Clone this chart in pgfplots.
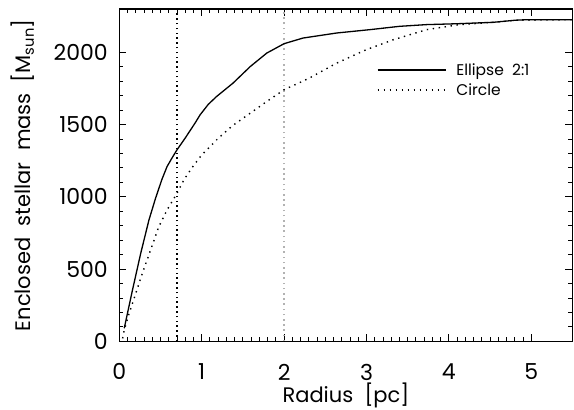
\documentclass[border=0pt]{standalone}
\usepackage{pgfplots}
\pgfplotsset{compat=1.18}
\usepackage{fontspec}
\setmainfont{Poppins}

% Enclosed stellar mass profiles
\pgfplotstableread{
r M
0.06 90
0.16 355
0.26 609
0.36 840
0.44 990
0.515 1117
0.58 1210
0.64 1269
0.70 1325
0.80 1407
0.92 1511
0.98 1567
1.08 1640
1.18 1694
1.38 1787
1.59 1902
1.79 1995
2.00 2060
2.23 2099
2.64 2134
3.04 2157
3.40 2180
3.73 2192
4.10 2198
4.54 2208
4.80 2222
4.94 2226
5.50 2226
}\ellipsedata

\pgfplotstableread{
r M
0.04 20
0.06 78
0.12 194
0.20 332
0.28 471
0.38 632
0.48 794
0.58 909
0.70 1025
0.785 1118
0.88 1200
1.00 1290
1.20 1405
1.38 1495
1.59 1579
1.79 1660
2.01 1745
2.15 1780
2.31 1823
2.64 1926
3.00 2019
3.33 2088
3.73 2157
4.13 2192
4.54 2208
4.82 2222
5.50 2226
}\circledata

\begin{document}
\begin{tikzpicture}
\useasboundingbox (-119.3pt,-68.7pt) rectangle (454.7pt,341.3pt);
\begin{axis}[
  scale only axis,
  width=453.2pt, height=332.3pt,
  xmin=0, xmax=5.5, ymin=0, ymax=2300,
  xtick={0,1,2,3,4,5}, minor x tick num=9,
  ytick={0,500,1000,1500,2000}, minor y tick num=4,
  major tick length=7pt, minor tick length=4pt,
  tick style={black, line width=0.9pt},
  axis line style={line width=1.1pt},
  /pgf/number format/assume math mode=true,
  /pgf/number format/set thousands separator={},
  tick label style={font=\fontsize{22}{24}\selectfont},
  xticklabel style={yshift=-19pt},
  yticklabel style={xshift=-8pt},
  label style={font=\fontsize{21}{23}\selectfont},
  xlabel={Radius\ \ [pc]},
  ylabel={Enclosed\ \ stellar\ \ mass\ \ [M\textsubscript{sun}]},
  xlabel style={at={(axis description cs:0.5,-0.162)}, anchor=center},
  ylabel style={at={(axis description cs:-0.2125,0.5)}, anchor=center, rotate=0},
  legend style={at={(axis cs:3.124,1940)}, anchor=north west, draw=none, fill=none,
    font=\fontsize{15.5}{17}\selectfont, inner xsep=0pt, inner ysep=0pt,
    row sep=3pt},
  legend cell align=left,
  legend image code/.code={\draw[#1] (0pt,0pt) -- (68pt,0pt);\path (76pt,0pt);},
]
\addplot[gray!60, line width=1.7pt, dash pattern=on 1.6pt off 3.6pt, forget plot] coordinates {(2,0) (2,2300)};
\addplot[black, line width=1.4pt, dash pattern=on 1.5pt off 3.3pt, forget plot] coordinates {(0.7,0) (0.7,2300)};
\addplot[black, line width=1.3pt] table[x=r, y=M] {\ellipsedata};
\addlegendentry{Ellipse\ \ 2:1}
\addplot[black, line width=1.4pt, dash pattern=on 1.4pt off 4.6pt] table[x=r, y=M] {\circledata};
\addlegendentry{Circle}
\end{axis}
\end{tikzpicture}
\end{document}
